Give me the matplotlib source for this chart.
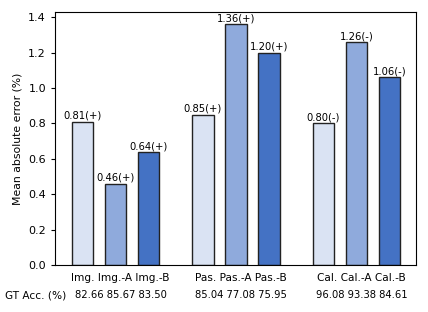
import matplotlib
matplotlib.use("Agg")
import matplotlib.pyplot as plt
import matplotlib.transforms as mtransforms
import numpy as np

categories = ["Img.", "Img.-A", "Img.-B", "Pas.", "Pas.-A", "Pas.-B", "Cal.", "Cal.-A", "Cal.-B"]
values = [0.81, 0.46, 0.64, 0.85, 1.36, 1.20, 0.80, 1.26, 1.06]
signs = ["(+)", "(+)", "(+)", "(+)", "(+)", "(+)", "(-)", "(-)", "(-)"]
gt_acc = ["82.66", "85.67", "83.50", "85.04", "77.08", "75.95", "96.08", "93.38", "84.61"]
gt_label = "GT Acc. (%)"
colors = ["#dae3f3", "#8faadc", "#4472c4"] * 3

positions = [0, 1, 2, 3.65, 4.65, 5.65, 7.3, 8.3, 9.3]

fig = plt.figure(figsize=(4.28, 3.12), dpi=100)
ax = fig.add_axes([55/428, 1-265/312, (416-55)/428, (265-12)/312])

ax.bar(positions, values, width=0.65, color=colors, edgecolor="#222222", linewidth=1.0)
for x, v, s in zip(positions, values, signs):
    ax.text(x, v + 0.004, f"{v:.2f}{s}", ha="center", va="bottom", fontsize=7.2)

ax.set_xlim(-0.83, 10.1)
ax.set_ylim(0, 1.43)
yt = np.arange(0, 1.41, 0.2)
ax.set_yticks(yt)
ax.set_yticklabels([f"{t:.1f}" for t in yt], fontsize=8)
ax.set_xticks([])
ax.tick_params(axis="y", length=3)
ax.set_ylabel("Mean absolute error (%)", fontsize=7.8)

shift = mtransforms.ScaledTranslation(5/100, 0, fig.dpi_scale_trans)
trans = mtransforms.blended_transform_factory(ax.transData, fig.transFigure) + shift
for g in range(3):
    mid = positions[3*g + 1]
    fig.text(mid, 1-278/312, " ".join(categories[3*g:3*g+3]), ha="center", va="center",
             fontsize=7.6, transform=trans)
    fig.text(mid, 1-295/312, " ".join(gt_acc[3*g:3*g+3]), ha="center", va="center",
             fontsize=7.2, transform=trans)
fig.text(5/428, 1-295/312, gt_label, ha="left", va="center", fontsize=7.6)

fig.savefig("out.png", dpi=100)
